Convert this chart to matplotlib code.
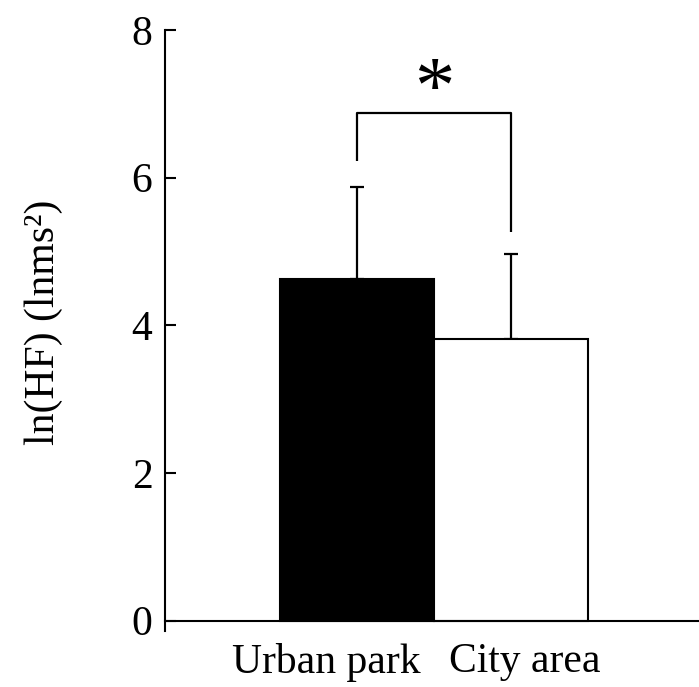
import matplotlib
matplotlib.use('Agg')
import matplotlib.pyplot as plt

groups = ['Urban park', 'City area']
means = [4.63, 3.81]
sd_upper = [1.24, 1.16]
bar_colors = ['black', 'white']
label_offsets = [-0.198, 0.09]

bracket_top = 6.87
bracket_legs = [6.22, 5.27]
star_y = 7.15

plt.rcParams['font.family'] = ['Liberation Serif', 'DejaVu Serif']

fig = plt.figure(figsize=(6.99, 6.87), dpi=100)
ax = fig.add_axes([0.236, 0.0815, 0.764, 0.8748])

x = [0, 1]
ax.bar(x, means, width=1.0, color=bar_colors, edgecolor='black', linewidth=1.5, zorder=2)
ax.errorbar(x, means, yerr=[[0, 0], sd_upper], fmt='none', ecolor='black',
            elinewidth=1.6, capsize=4.7, capthick=1.6, zorder=1)

# significance bracket
ax.plot([x[0], x[0], x[1], x[1]],
        [bracket_legs[0], bracket_top, bracket_top, bracket_legs[1]],
        color='black', lw=1.6, solid_capstyle='butt')
ax.text((x[0] + x[1]) / 2, star_y, '*', fontsize=58, ha='center', va='center')

ax.set_xlim(-1.247, 2.22)
ax.set_ylim(-0.14, 8)
ax.spines['top'].set_visible(False)
ax.spines['right'].set_visible(False)
ax.spines['bottom'].set_position(('data', 0))
ax.spines['left'].set_linewidth(1.5)
ax.spines['bottom'].set_linewidth(1.5)
ax.spines['left'].set_bounds(-0.14, 8)

ax.set_yticks([0, 2, 4, 6, 8])
ax.tick_params(axis='y', direction='in', length=8, width=1.5, labelsize=30, pad=9)
ax.set_xticks([xi + o for xi, o in zip(x, label_offsets)])
ax.set_xticklabels(groups)
ax.tick_params(axis='x', length=0, labelsize=30, pad=16)

ax.set_ylabel('ln(HF) (lnms²)', fontsize=30)
ax.yaxis.set_label_coords(-0.19, 0.513)

fig.savefig('out.png', dpi=100)
